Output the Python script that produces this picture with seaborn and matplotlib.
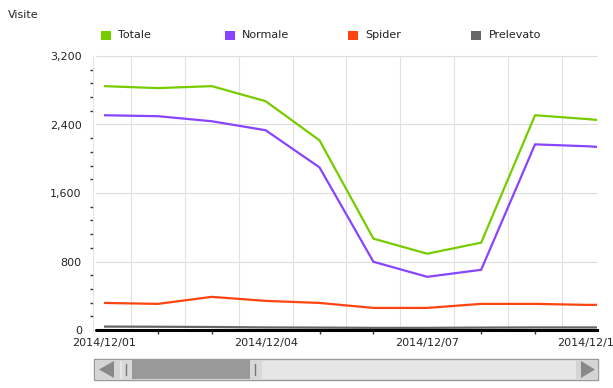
import pandas as pd
import matplotlib
matplotlib.use("Agg")
import matplotlib.pyplot as plt
import matplotlib.dates as mdates
from matplotlib.patches import Rectangle, Polygon
from matplotlib.lines import Line2D
import seaborn as sns

# data
giorni = ["2014-12-01", "2014-12-02", "2014-12-03", "2014-12-04", "2014-12-05", "2014-12-06",
          "2014-12-07", "2014-12-08", "2014-12-09", "2014-12-10", "2014-12-11"]
totale = [2848, 2825, 2848, 2672, 2215, 1067, 891, 1020, 2508, 2462, 2400]
normale = [2508, 2497, 2438, 2333, 1899, 797, 621, 703, 2168, 2145, 2100]
spider = [316, 305, 387, 340, 316, 258, 258, 305, 305, 293, 300]
prelevato = [40, 38, 35, 30, 28, 25, 25, 28, 30, 30, 30]

serie = ["Totale", "Normale", "Spider", "Prelevato"]
colori = ["#77cc00", "#8844ff", "#ff4411", "#666666"]

df = pd.DataFrame({"giorno": pd.to_datetime(giorni), "Totale": totale, "Normale": normale,
                   "Spider": spider, "Prelevato": prelevato})
long = df.melt(id_vars="giorno", var_name="serie", value_name="visite")

sns.set_style("white")
plt.rcParams["font.family"] = ["DejaVu Sans"]

W, H = 613, 388
fig = plt.figure(figsize=(W / 100, H / 100), dpi=100)
ax = fig.add_axes([104 / W, (H - 330) / H, 493 / W, 274 / H])

sns.lineplot(data=long, x="giorno", y="visite", hue="serie", hue_order=serie,
             palette=colori, linewidth=1.6, ax=ax, legend=False)

start = pd.Timestamp("2014-12-01")
ax.set_xlim(start, start + pd.Timedelta(days=9.15))
ax.set_ylim(0, 3200)

# grid, the horizontal lines start at the shifted y axis
x_off = -8 / 493
for v in [800, 1600, 2400, 3200]:
    ax.add_line(Line2D([x_off, 1], [v, v], transform=ax.get_yaxis_transform(),
                       color="#dddddd", lw=0.8, zorder=0, clip_on=False))
for k in range(9):
    ax.axvline(start + pd.Timedelta(hours=12 + 24 * k), color="#e2e2e2", lw=0.8, zorder=0)

ax.set_yticks([0, 800, 1600, 2400, 3200])
ax.set_yticklabels(["0", "800", "1,600", "2,400", "3,200"])
ax.set_yticks(range(0, 3201, 160), minor=True)
ax.xaxis.set_major_locator(mdates.DayLocator(bymonthday=[1, 4, 7, 10]))
ax.xaxis.set_major_formatter(mdates.DateFormatter("%Y/%m/%d"))
ax.xaxis.set_minor_locator(mdates.DayLocator())
ax.tick_params(axis="y", which="major", length=5, width=2, color="black", labelsize=8, pad=3)
ax.tick_params(axis="y", which="minor", length=2, width=1, color="#333333", left=True)
ax.tick_params(axis="x", which="major", length=5, width=2, color="black", labelsize=8, pad=1)
ax.tick_params(axis="x", which="minor", length=3, width=1, color="#333333", bottom=True)
ax.set_xlabel("")
ax.set_ylabel("")

for s in ["top", "right"]:
    ax.spines[s].set_visible(False)
ax.spines["left"].set_position(("outward", 8))
ax.spines["left"].set_color("#dddddd")
ax.spines["left"].set_linestyle(":")
ax.spines["bottom"].set_color("black")
ax.spines["bottom"].set_linewidth(2.2)
# bottom axis line reaches back to the y axis
ax.add_line(Line2D([x_off, 0], [0, 0], transform=ax.transAxes, color="black",
                   lw=2.2, clip_on=False))

fig.text(8 / W, 1 - 15 / H, "Visite", fontsize=8, ha="left", va="center")

# legend, fixed spacing
for i, (nome, col) in enumerate(zip(serie, colori)):
    x0 = 101 + 123.5 * i
    fig.patches.append(Rectangle((x0 / W, 1 - 40 / H), 10 / W, 9 / H,
                                 transform=fig.transFigure, fc=col, ec="none"))
    fig.text((x0 + 17) / W, 1 - 35.5 / H, nome, fontsize=8, ha="left", va="center", color="#222222")

# scrollbar
def fr(x, y, w, h, fc, ec="none"):
    fig.patches.append(Rectangle((x / W, 1 - (y + h) / H), w / W, h / H,
                                 transform=fig.transFigure, fc=fc, ec=ec, lw=1))

fr(94, 359, 504, 21, "#e6e6e6", "#999999")
fr(95, 360, 25, 19, "#d4d4d4")
fr(576, 360, 21, 19, "#d4d4d4")
fr(122, 360, 10, 19, "#d8d8d8")
fr(132, 360, 118, 19, "#999999")
fr(250, 360, 12, 19, "#d8d8d8")
fig.patches.append(Polygon([(99 / W, 1 - 369.5 / H), (114 / W, 1 - 361 / H), (114 / W, 1 - 378 / H)],
                           transform=fig.transFigure, fc="#888888", ec="none"))
fig.patches.append(Polygon([(595 / W, 1 - 369.5 / H), (581 / W, 1 - 361 / H), (581 / W, 1 - 378 / H)],
                           transform=fig.transFigure, fc="#888888", ec="none"))
for xx in [126, 255]:
    fig.lines.append(Line2D([xx / W, xx / W], [1 - 364 / H, 1 - 375 / H],
                            transform=fig.transFigure, color="#777777", lw=1))

fig.savefig("out.png", dpi=100)
